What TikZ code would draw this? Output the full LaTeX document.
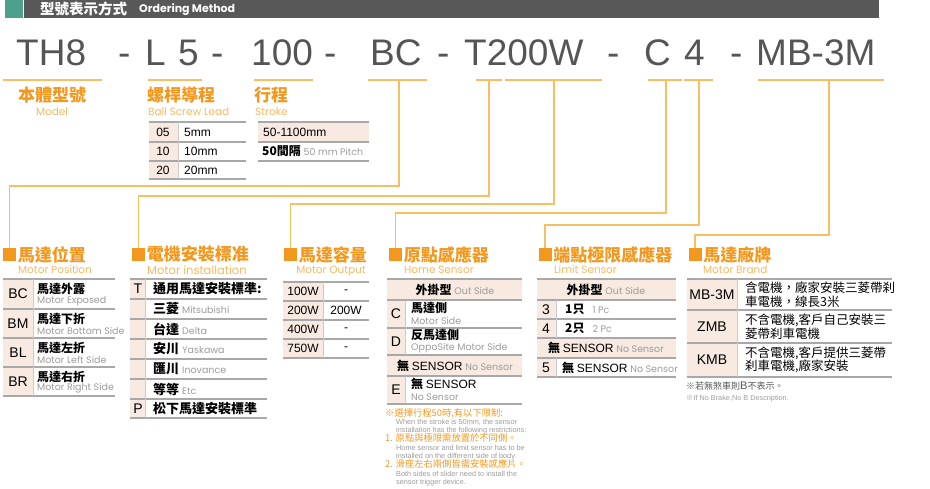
\documentclass[tikz,border=0pt]{standalone}
\usepackage{fontspec}
\setmainfont{Liberation Sans}
\newfontfamily\cjk{Noto Sans CJK TC}
\newfontfamily\geo{Poppins}
\usetikzlibrary{positioning,calc}
\definecolor{colOr}{RGB}{243,152,30}
\definecolor{colOrL}{RGB}{246,184,96}
\definecolor{colLn}{RGB}{247,190,100}
\definecolor{colPe}{RGB}{248,234,224}
\definecolor{colTb}{RGB}{168,168,168}
\definecolor{colTx}{RGB}{85,85,85}
\definecolor{colHd}{RGB}{88,88,88}
\definecolor{colTe}{RGB}{78,160,140}
\definecolor{colGr}{RGB}{155,155,155}
\newcommand\engr[1]{{\geo\mdseries\fontsize{9.5}{9.5}\selectfont\color{colGr}#1}}
\newcommand\lat[1]{{\rmfamily\mdseries #1}}

\begin{document}
\begin{tikzpicture}[x=1pt, y=-1pt, inner sep=0pt,
    code/.style={font=\fontsize{37}{37}\selectfont, text=colTx, anchor=base west},
    ttl/.style={font=\cjk\bfseries\fontsize{17}{17}\selectfont, text=colOr, anchor=west},
    sub/.style={font=\geo\fontsize{10.5}{10.5}\selectfont, text=colOrL, anchor=west},
    sq/.style={fill=colOr, minimum size=13pt},
    ul/.style={colLn, line width=1.4pt},
    conn/.style={colLn, line width=1.2pt},
    tl/.style={colTb, line width=1.3pt},
    vl/.style={colTb!60, line width=0.6pt},
    num/.style={font=\fontsize{12}{12}\selectfont},
    cd/.style={font=\fontsize{14}{14}\selectfont},
    zh/.style={font=\cjk\bfseries\fontsize{12}{12}\selectfont, anchor=west},
    en/.style={font=\geo\fontsize{9.5}{9.5}\selectfont, text=colGr, anchor=west},
    nz/.style={font=\cjk\fontsize{9.3}{9.3}\selectfont, text=colOr, anchor=base west},
    ne/.style={font=\fontsize{7.3}{7.3}\selectfont, text=colGr, anchor=base west}]
  \useasboundingbox (0,0) rectangle (930,488);

  % header
  \node[fill=colTe, minimum width=18pt, minimum height=18pt, anchor=north west] (hdrTeal) at (5,0) {};
  \node[fill=colHd, minimum width=855pt, minimum height=18pt, anchor=north west] (hdr) at (hdrTeal.north east) {};
  \node[font=\cjk\bfseries\fontsize{14.5}{14.5}\selectfont, text=white, anchor=west] (hdrZh) at (40,9) {型號表示方式};
  \node[font=\geo\bfseries\fontsize{11}{11}\selectfont, text=white, anchor=west] (hdrEn) at (139,9.5) {Ordering Method};

  % model code
  \node[code] (cTH) at (16,65) {TH8};
  \node[code] (cD1) at (118,65) {-};
  \node[code] (cL) at (145,65) {L};
  \node[code] (c5) at (178,65) {5};
  \node[code] (cD2) at (211,65) {-};
  \node[code] (c100) at (251,65) {100};
  \node[code] (cD3) at (324,65) {-};
  \node[code] (cBC) at (370,65) {BC};
  \node[code] (cD4) at (437,65) {-};
  \node[code] (cT200) at (464,65) {T200W};
  \node[code] (cD5) at (607,65) {-};
  \node[code] (cC) at (644,65) {C};
  \node[code] (c4) at (684,65) {4};
  \node[code] (cD6) at (730,65) {-};
  \node[code] (cMB) at (756,65) {MB-3M};

  % underlines
  \draw[ul] (3,80) -- (102,80);
  \draw[ul] (148,80) -- (202,80);
  \draw[ul] (254,80) -- (313,80);
  \draw[ul] (368,80) -- (427,80);
  \draw[ul] (476,80) -- (502,80);
  \draw[ul] (505,80) -- (602,80);
  \draw[ul] (648,80) -- (682,80);
  \draw[ul] (684,80) -- (713,80);
  \draw[ul] (758,80) -- (884,80);
  \coordinate (uBC) at (399,80);
  \coordinate (uT) at (489,80);
  \coordinate (uW) at (554,80);
  \coordinate (uC) at (666,80);
  \coordinate (u4) at (699,80);
  \coordinate (uMB) at (829,80);

  % upper titles
  \node[ttl] (tModel) at (18,95) {本體型號};
  \node[sub, anchor=center] (sModel) at (52,112) {Model};
  \node[ttl] (tLead) at (147,95) {螺桿導程};
  \node[sub] (sLead) at (148,112) {Ball Screw Lead};
  \node[ttl] (tStroke) at (254,95) {行程};
  \node[sub] (sStroke) at (255,112) {Stroke};

  % ball screw lead table
  \fill[colPe] (149,122) rectangle (178,179);
  \foreach \y in {122,142,161,179} \draw[tl] (149,\y) -- (246,\y);
  \draw[vl] (178,122) -- (178,179);
  \foreach \c/\v/\y in {05/5mm/132,10/10mm/151.5,20/20mm/170} {
    \node[num] (ld\c) at (163,\y) {\c};
    \node[num, anchor=west] (lv\c) at (184,\y) {\v};
  }

  % stroke table
  \fill[colPe] (258,122) rectangle (369,142);
  \foreach \y in {122,142,161} \draw[tl] (258,\y) -- (369,\y);
  \node[num, anchor=west] (st1) at (263,132) {50-1100mm};
  \node[zh] (st2) at (262,151.5) {50間隔 \engr{50 mm Pitch}};

  % section squares and titles
  \node[sq] (sqPos) at (9.5,254.5) {};
  \node[sq] (sqInst) at (138.5,254.5) {};
  \node[sq] (sqOut) at (290.5,254.5) {};
  \node[sq] (sqHome) at (395.5,254.5) {};
  \node[sq] (sqLim) at (545,254.5) {};
  \node[sq] (sqBrand) at (695,254.5) {};
  \node[ttl, right=1.5pt of sqPos] (tPos) {馬達位置};
  \node[ttl, right=1.5pt of sqInst] (tInst) {電機安裝標准};
  \node[ttl, right=1.5pt of sqOut] (tOut) {馬達容量};
  \node[ttl, right=1.5pt of sqHome] (tHome) {原點感應器};
  \node[ttl, right=1.5pt of sqLim] (tLim) {端點極限感應器};
  \node[ttl, right=1.5pt of sqBrand] (tBrand) {馬達廠牌};
  \node[sub] (sPos) at (18,270) {Motor Position};
  \node[sub, font=\geo\fontsize{11.5}{11.5}\selectfont] (sInst) at (147,270) {Motor installation};
  \node[sub, anchor=center] (sOut) at (331,271) {Motor Output};
  \node[sub] (sHome) at (404,270) {Home Sensor};
  \node[sub] (sLim) at (554,270) {Limit Sensor};
  \node[sub] (sBrand) at (703,270) {Motor Brand};

  % connectors
  \draw[conn] (uBC) -- ++(0,106) -| (sqPos.north);
  \draw[conn] (uT) -- ++(0,116) -| (sqInst.north);
  \draw[conn] (uW) -- ++(0,124) -| (sqOut.north);
  \draw[conn] (uC) -- ++(0,133) -| (sqHome.north);
  \draw[conn] (u4) -- ++(0,145) -| (sqLim.north);
  \draw[conn] (uMB) -- ++(0,155) -| (sqBrand.north);

  % motor position table
  \fill[colPe] (3,279) rectangle (33,396);
  \foreach \y in {279,309,338,367,396} \draw[tl] (3,\y) -- (115,\y);
  \draw[vl] (33,279) -- (33,396);
  \foreach \c/\z/\e/\y in {BC/馬達外露/Motor Exposed/294, BM/馬達下折/Motor Bottom Side/323.5,
      BL/馬達左折/Motor Left Side/352.5, BR/馬達右折/Motor Right Side/381.5} {
    \node[cd] (pc\c) at (18,\y) {\c};
    \node[zh] (pz\c) at (37,\y-5) {\z};
    \node[en] (pe\c) at (37,\y+7) {\e};
  }

  % motor installation table
  \fill[colPe] (130,279) rectangle (145,418);
  \foreach \y in {279,299,319,339,359,379,399,418} \draw[tl] (130,\y) -- (267,\y);
  \draw[vl] (145,279) -- (145,418);
  \node[cd] (ic1) at (138,289) {T};
  \node[zh, font=\cjk\bfseries\fontsize{13}{13}\selectfont] (iz1) at (153,289) {通用馬達安裝標準:};
  \foreach \z/\e/\y in {三菱/Mitsubishi/309, 台達/Delta/329, 安川/Yaskawa/349,
      匯川/Inovance/369, 等等/Etc/389} {
    \node[zh, font=\cjk\bfseries\fontsize{13}{13}\selectfont] (iz\y) at (153,\y) {\z\hspace{3pt}\engr{\e}};
  }
  \node[cd] (ic2) at (138,408.5) {P};
  \node[zh, font=\cjk\bfseries\fontsize{13}{13}\selectfont] (iz2) at (153,408.5) {松下馬達安裝標準};

  % motor output table
  \fill[colPe] (283,282) rectangle (323,358);
  \foreach \y in {282,301,320,339,358} \draw[tl] (283,\y) -- (369,\y);
  \draw[vl] (323,282) -- (323,358);
  \foreach \a/\b/\y in {100W/-/291.5, 200W/200W/310.5, 400W/-/329.5, 750W/-/348.5} {
    \node[num] (oa\a) at (303,\y) {\a};
    \node[num] (ob\a) at (346,\y) {\b};
  }

  % home sensor table
  \fill[colPe] (387,279) rectangle (522,300);
  \fill[colPe] (387,355) rectangle (522,376);
  \fill[colPe] (387,300) rectangle (405,355);
  \fill[colPe] (387,376) rectangle (405,404);
  \foreach \y in {279,300,328,355,376,404} \draw[tl] (387,\y) -- (522,\y);
  \draw[vl] (405,300) -- (405,355);
  \draw[vl] (405,376) -- (405,404);
  \node[zh, anchor=center] (h0) at (455,289.5) {外掛型 \engr{Out Side}};
  \node[cd] (hC) at (396,314) {C};
  \node[zh] (hzC) at (411,308) {馬達側};
  \node[en] (heC) at (411,321) {Motor Side};
  \node[cd] (hD) at (396,341.5) {D};
  \node[zh] (hzD) at (411,335) {反馬達側};
  \node[en] (heD) at (411,348) {OppoSite Motor Side};
  \node[zh, anchor=center] (hN) at (455,365.5) {無 \lat{SENSOR} \engr{No Sensor}};
  \node[cd] (hE) at (396,390) {E};
  \node[zh] (hzE) at (411,384) {無 \lat{SENSOR}};
  \node[en] (heE) at (411,397) {No Sensor};

  % notes below home sensor
  \node[nz] (n1) at (385,416) {※選擇行程50時,有以下限制:};
  \node[ne] (n2) at (396,424) {When the stroke is 50mm, the sensor};
  \node[ne] (n3) at (396,432) {installation has the following restrictions:};
  \node[nz] (n4) at (385,441) {1. 原點與極限需放置於不同側。};
  \node[ne] (n5) at (396,450) {Home sensor and limit sensor has to be};
  \node[ne] (n6) at (396,458) {installed on the different side of body.};
  \node[nz] (n7) at (385,467) {2. 滑座左右兩側皆需安裝感應片。};
  \node[ne] (n8) at (396,476) {Both sides of slider need to install the};
  \node[ne] (n9) at (396,484) {sensor trigger device.};

  % limit sensor table
  \fill[colPe] (537,279) rectangle (676,300);
  \fill[colPe] (537,338) rectangle (676,358);
  \fill[colPe] (537,300) rectangle (556,338);
  \fill[colPe] (537,358) rectangle (556,377);
  \foreach \y in {279,300,319,338,358,377} \draw[tl] (537,\y) -- (676,\y);
  \draw[vl] (556,300) -- (556,338);
  \draw[vl] (556,358) -- (556,377);
  \node[zh, anchor=center] (m0) at (606,289.5) {外掛型 \engr{Out Side}};
  \node[cd] (m3) at (546,309.5) {3};
  \node[zh] (mz3) at (565,309.5) {1只\hspace{8pt}\engr{1 Pc}};
  \node[cd] (m4) at (546,328.5) {4};
  \node[zh] (mz4) at (565,328.5) {2只\hspace{8pt}\engr{2 Pc}};
  \node[zh, anchor=center] (mN) at (606,348) {無 \lat{SENSOR} \engr{No Sensor}};
  \node[cd] (m5) at (546,367.5) {5};
  \node[zh] (mz5) at (562,367.5) {無 \lat{SENSOR} \engr{No Sensor}};

  % motor brand table
  \fill[colPe] (687,279) rectangle (737,377);
  \foreach \y in {279,310,343,377} \draw[tl] (687,\y) -- (892,\y);
  \draw[vl] (737,279) -- (737,377);
  \node[cd] (bMB) at (712,294.5) {MB-3M};
  \node[cd] (bZ) at (712,326.5) {ZMB};
  \node[cd] (bK) at (712,360) {KMB};
  \node[font=\cjk\fontsize{12.5}{13.5}\selectfont, align=left, anchor=west] (bzMB) at (745,294.5)
    {含電機，廠家安裝三菱帶刹\\車電機，線長3米};
  \node[font=\cjk\fontsize{12.5}{13.5}\selectfont, align=left, anchor=west] (bzZ) at (745,326.5)
    {不含電機,客戶自己安裝三\\菱帶刹車電機};
  \node[font=\cjk\fontsize{12.5}{13.5}\selectfont, align=left, anchor=west] (bzK) at (745,360)
    {不含電機,客戶提供三菱帶\\刹車電機,廠家安裝};
  \node[font=\cjk\fontsize{9}{9}\selectfont, text=colTx, anchor=base west] (bn1) at (686,389)
    {※若無煞車則\lat{\fontsize{11}{11}\selectfont B}不表示。};
  \node[ne] (bn2) at (686,400) {{\cjk ※}If No Brake,No B Description.};
\end{tikzpicture}
\end{document}
